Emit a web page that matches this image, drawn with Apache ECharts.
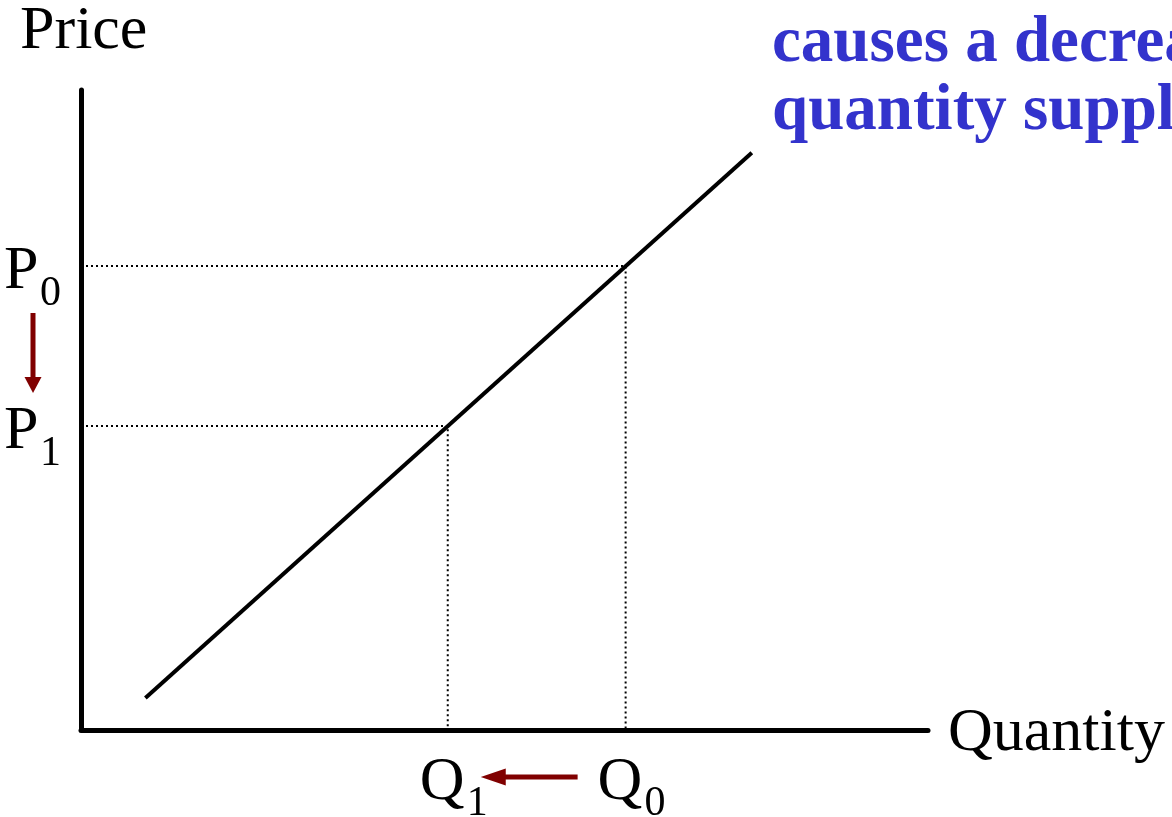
<!DOCTYPE html>
<html>
<head>
<meta charset="utf-8">
<style>
  html, body { margin: 0; padding: 0; background: #ffffff; }
  #chart { width: 1172px; height: 817px; }
</style>
<script src="https://cdn.jsdelivr.net/npm/echarts@6/dist/echarts.min.js"></script>
</head>
<body>
<div id="chart"></div>
<script>
// ---- data ----
const supplyQuantity = [7.6, 79.2];
const supplyPrice = [5, 90.2];
const priceLevels = [72.5, 47.5];      // P0, P1
const priceSubs = ['0', '1'];
const quantityLevels = [64.3, 43.3];   // Q0, Q1
const quantitySubs = ['0', '1'];
const axisTitles = ['Price', 'Quantity'];
const noteLines = ['causes a decrease in', 'quantity supplied'];

const FONT = '"Liberation Serif", "Times New Roman", serif';
const DARKRED = '#800000';

const chart = echarts.init(document.getElementById('chart'), null, { renderer: 'canvas' });

const supplyData = supplyQuantity.map((q, i) => [q, supplyPrice[i]]);
const guides = priceLevels.map((p, i) => ({
  type: 'line',
  data: [[0, p], [quantityLevels[i], p], [quantityLevels[i], 0]],
  symbol: 'none',
  silent: true,
  z: 1,
  lineStyle: { color: '#000', width: 2, type: [2, 3] }
}));

chart.setOption({
  animation: false,
  backgroundColor: '#ffffff',
  grid: { left: 81, top: 90, width: 847, height: 640 },
  xAxis: {
    type: 'value', min: 0, max: 100,
    axisLine: { show: true, lineStyle: { color: '#000', width: 5 } },
    axisTick: { show: false }, axisLabel: { show: false }, splitLine: { show: false }
  },
  yAxis: {
    type: 'value', min: 0, max: 100,
    axisLine: { show: true, lineStyle: { color: '#000', width: 5 } },
    axisTick: { show: false }, axisLabel: { show: false }, splitLine: { show: false }
  },
  series: guides.concat([{
    type: 'line',
    data: supplyData,
    symbol: 'none',
    silent: true,
    z: 3,
    lineStyle: { color: '#000', width: 4 }
  }])
});

function px(q, p) { return chart.convertToPixel({ gridIndex: 0 }, [q, p]); }

const els = [];
function txt(s, x, y, size, opts) {
  els.push({
    type: 'text', silent: true, z: 10,
    style: Object.assign({
      text: s, x: x, y: y,
      font: size + 'px ' + FONT,
      fill: '#000', textAlign: 'left', verticalAlign: 'middle'
    }, opts || {})
  });
}

// axis titles
const origin = px(0, 0);
const topLeft = px(0, 100);
const rightEnd = px(100, 0);
txt(axisTitles[0], 20, topLeft[1] - 58.5, 62);
txt(axisTitles[1], rightEnd[0] + 20, origin[1] + 3.5, 62);

// price labels
priceLevels.forEach((p, i) => {
  const y = px(0, p)[1];
  txt('P', 4, y + 6, 62);
  txt(priceSubs[i], 40, y + 27.5, 42);
});
// quantity labels
quantityLevels.forEach((q, i) => {
  const x = px(q, 0)[0];
  txt('Q', x - 28, origin[1] + 52.5, 62);
  txt(quantitySubs[i], x + 19, origin[1] + 74, 42);
});

// blue note
txt(noteLines[0], 772, 44.5, 65, { fill: '#3333CC', font: 'bold 65px ' + FONT });
txt(noteLines[1], 772, 112, 65, { fill: '#3333CC', font: 'bold 65px ' + FONT });

// vertical arrow P0 -> P1
const yP0 = px(0, priceLevels[0])[1];
const yP1 = px(0, priceLevels[1])[1];
const ax = 33;
const vStart = yP0 + 47, vTip = yP1 - 33;
els.push({ type: 'line', silent: true, z: 10,
  shape: { x1: ax, y1: vStart, x2: ax, y2: vTip - 14 },
  style: { stroke: DARKRED, lineWidth: 5 } });
els.push({ type: 'polygon', silent: true, z: 10,
  shape: { points: [[ax - 8.5, vTip - 16], [ax + 8.5, vTip - 16], [ax, vTip]] },
  style: { fill: DARKRED } });

// horizontal arrow Q0 -> Q1
const xQ0 = px(quantityLevels[0], 0)[0];
const xQ1 = px(quantityLevels[1], 0)[0];
const ay = origin[1] + 47;
const hStart = xQ0 - 48, hTip = xQ1 + 33;
els.push({ type: 'line', silent: true, z: 10,
  shape: { x1: hStart, y1: ay, x2: hTip + 20, y2: ay },
  style: { stroke: DARKRED, lineWidth: 5 } });
els.push({ type: 'polygon', silent: true, z: 10,
  shape: { points: [[hTip + 25, ay - 8.5], [hTip + 25, ay + 8.5], [hTip, ay]] },
  style: { fill: DARKRED } });

chart.setOption({ graphic: { elements: els } });
</script>
</body>
</html>
